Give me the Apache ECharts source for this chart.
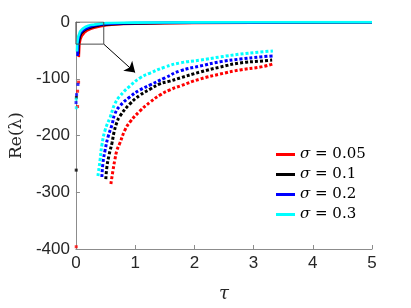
<!DOCTYPE html>
<html>
<head>
<meta charset="utf-8">
<script src="https://cdn.jsdelivr.net/npm/echarts@6/dist/echarts.min.js"></script>
<style>html,body{margin:0;padding:0;background:#fff}#c{width:411px;height:308px}</style>
</head>
<body>
<div id="c"></div>
<script>
// ---- data ----
var seriesNames = ['σ = 0.05', 'σ = 0.1', 'σ = 0.2', 'σ = 0.3'];
var seriesColors = ['#ff0000', '#000000', '#0000ff', '#00ffff'];
var xTicks = [0, 1, 2, 3, 4, 5];
var yTicks = [-400, -300, -200, -100, 0];

// magnified part (tau, Re) shown in the inset
var redInset = [[0.058,-40.0],[0.064,-36.0],[0.069,-33.1],[0.075,-30.3],[0.083,-28.3],[0.097,-24.6],[0.111,-22.3],[0.139,-19.1],[0.167,-16.6],[0.194,-14.6],[0.222,-13.1],[0.25,-12.0],[0.306,-10.0],[0.361,-8.6],[0.417,-7.4],[0.472,-6.6],[0.508,-5.7]];
var blackInset = [[0.044,-38.6],[0.047,-35.1],[0.053,-31.7],[0.061,-28.3],[0.067,-25.1],[0.075,-22.3],[0.083,-20.6],[0.111,-17.1],[0.139,-14.6],[0.167,-12.9],[0.194,-11.4],[0.222,-10.6],[0.25,-9.7],[0.306,-8.0],[0.361,-6.6],[0.417,-5.4],[0.472,-4.9],[0.506,-4.6]];
var blueInset = [[0.033,-38.0],[0.036,-34.0],[0.042,-30.3],[0.050,-26.6],[0.061,-23.1],[0.069,-20.0],[0.083,-17.7],[0.111,-15.1],[0.139,-13.1],[0.167,-11.7],[0.208,-9.7],[0.25,-7.7],[0.306,-6.3],[0.361,-5.1],[0.417,-4.3],[0.472,-3.7],[0.508,-3.4]];
var cyanInset = [[0.022,-37.7],[0.028,-33.1],[0.033,-28.9],[0.042,-24.6],[0.056,-20.9],[0.069,-17.1],[0.083,-14.9],[0.111,-12.0],[0.139,-9.7],[0.167,-8.3],[0.208,-6.6],[0.25,-5.4],[0.306,-4.6],[0.361,-3.7],[0.417,-2.9],[0.472,-2.3],[0.508,-2.0]];

// start and tail of the full curves
var redHead = [[0.048,-62]];
var blackHead = [[0.040,-56]];
var blueHead = [[0.028,-60]];
var cyanHead = [[0.018,-52]];
var redTail = [[0.6,-4.6],[0.8,-3.6],[1.0,-3.0],[1.5,-2.1],[2,-1.6],[3,-1.1],[4,-0.8],[5,-0.6]];
var blackTail = [[0.6,-3.7],[0.8,-2.9],[1.0,-2.4],[1.5,-1.7],[2,-1.3],[3,-0.9],[4,-0.7],[5,-0.5]];
var blueTail = [[0.6,-2.8],[0.8,-2.2],[1.0,-1.8],[1.5,-1.3],[2,-1.0],[3,-0.7],[4,-0.5],[5,-0.4]];
var cyanTail = [[0.6,-1.7],[0.8,-1.3],[1.0,-1.1],[1.5,-0.8],[2,-0.6],[3,-0.4],[4,-0.3],[5,-0.2]];

// isolated points near tau = 0
var redDots = [[0.005,-396],[0.045,-106],[0.028,-122],[0.028,-149]];
var blackDots = [[0.005,-261],[0.008,-133]];
var blueDots = [[0.034,-110],[0.011,-128],[0.002,-142]];
var cyanDots = [[0.006,-136],[0.006,-151]];

// zoom box and arrow (tau, Re)
var zoomBox = [[0,0],[0.47,0],[0.47,-39],[0,-39],[0,0]];
var arrowFrom = [0.47,-39];
var arrowTo = [1.0,-89];

// ---- chart ----
var insets = [redInset, blackInset, blueInset, cyanInset];
var heads = [redHead, blackHead, blueHead, cyanHead];
var tails = [redTail, blackTail, blueTail, cyanTail];
var dots = [redDots, blackDots, blueDots, cyanDots];

var series = [];
for (var i = 0; i < 4; i++) {
  series.push({
    name: seriesNames[i], type: 'line', xAxisIndex: 0, yAxisIndex: 0,
    data: heads[i].concat(insets[i], tails[i]),
    showSymbol: false, symbol: 'none', smooth: false,
    lineStyle: {color: seriesColors[i], width: 2.6}, itemStyle: {color: seriesColors[i]},
    z: 3 + i
  });
}
for (var i = 0; i < 4; i++) {
  series.push({
    name: 'dots' + i, type: 'scatter', xAxisIndex: 0, yAxisIndex: 0,
    data: dots[i], symbol: 'rect', symbolSize: 3,
    itemStyle: {color: seriesColors[i]}, silent: true, z: 3
  });
}
for (var i = 0; i < 4; i++) {
  series.push({
    name: 'inset' + i, type: 'line', xAxisIndex: 1, yAxisIndex: 1,
    data: insets[i], symbol: 'none', smooth: true,
    lineStyle: {color: seriesColors[i], width: 3, type: [3, 2], cap: 'butt'},
    silent: true, z: 3
  });
}
series.push({
  name: 'box', type: 'line', xAxisIndex: 0, yAxisIndex: 0,
  data: zoomBox, symbol: 'none',
  lineStyle: {color: '#4d4d4d', width: 1}, silent: true, z: 8,
  markLine: {
    silent: true, symbol: ['none', 'arrow'], symbolSize: 10,
    label: {show: false},
    lineStyle: {color: '#000000', width: 1, type: 'solid'},
    itemStyle: {color: '#000000'},
    data: [[{coord: arrowFrom}, {coord: arrowTo}]]
  }
});

var option = {
  animation: false,
  backgroundColor: '#ffffff',
  grid: [
    {left: 74, top: 22, width: 298, height: 228},
    {left: 90, top: 44, width: 198, height: 140}
  ],
  legend: {
    data: seriesNames, orient: 'vertical', left: 271, top: 142,
    icon: 'rect', itemWidth: 19, itemHeight: 3, itemGap: 5,
    textStyle: {fontFamily: 'DejaVu Serif', fontSize: 15, color: '#000',
      rich: {s: {fontFamily: 'DejaVu Serif', fontStyle: 'italic', fontSize: 15}}},
    formatter: function (n) { return '{s|σ}' + n.slice(1); },
    selectedMode: false
  },
  xAxis: [
    {type: 'value', gridIndex: 0, min: 0, max: 5, interval: 1,
     name: 'τ', nameLocation: 'middle', nameGap: 36,
     nameTextStyle: {fontFamily: 'DejaVu Serif', fontStyle: 'italic', fontSize: 18, color: '#262626'},
     axisLine: {show: true, onZero: false, lineStyle: {color: '#8c8c8c', width: 1}},
     axisTick: {show: true, inside: true, length: 4, lineStyle: {color: '#8c8c8c'}},
     axisLabel: {fontFamily: 'Liberation Sans', fontSize: 17, color: '#262626', margin: 6,
       formatter: function (v) { return xTicks.indexOf(v) >= 0 ? String(v) : ''; }},
     splitLine: {show: false}},
    {type: 'value', gridIndex: 1, min: 0, max: 0.55, show: false}
  ],
  yAxis: [
    {type: 'value', gridIndex: 0, min: -400, max: 0, interval: 100,
     name: 'Re(λ)', nameLocation: 'middle', nameGap: 50, nameRotate: 90,
     nameTextStyle: {fontFamily: 'DejaVu Serif', fontSize: 17, color: '#262626'},
     axisLine: {show: true, onZero: false, lineStyle: {color: '#8c8c8c', width: 1}},
     axisTick: {show: true, inside: true, length: 4, lineStyle: {color: '#8c8c8c'}},
     axisLabel: {fontFamily: 'Liberation Sans', fontSize: 17, color: '#262626', margin: 6,
       formatter: function (v) { return yTicks.indexOf(v) >= 0 ? String(v) : ''; }},
     splitLine: {show: false}},
    {type: 'value', gridIndex: 1, min: -40, max: 0, show: false}
  ],
  series: series
};
var chart = echarts.init(document.getElementById('c'), null, {renderer: 'canvas'});
chart.setOption(option);
</script>
</body>
</html>
